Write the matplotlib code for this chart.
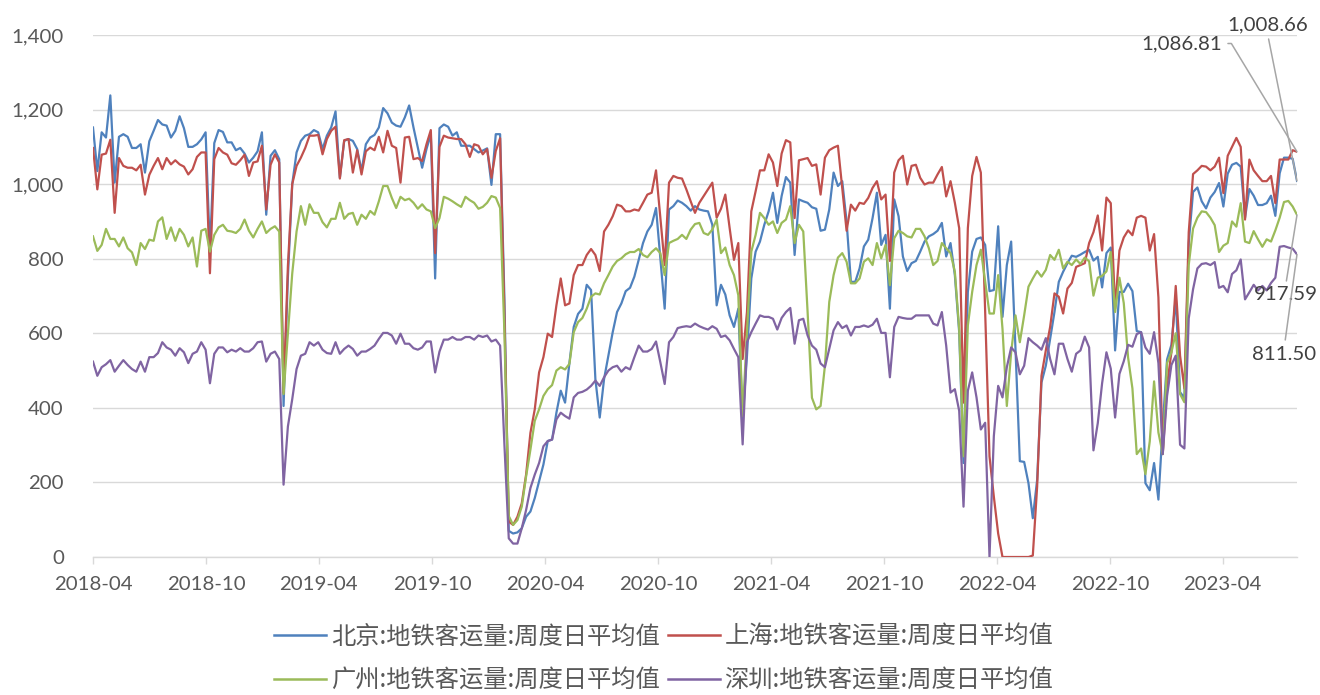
import matplotlib
matplotlib.use("Agg")
import matplotlib.pyplot as plt
from matplotlib.font_manager import FontProperties
from matplotlib.ticker import FuncFormatter
import pandas as pd

# ---------------- data ----------------
start_date = "2018-04-01"
n_weeks = 279

beijing = [
    1152, 1035, 1139, 1125, 1238, 1004, 1127, 1134, 1127, 1097,
    1097, 1107, 1031, 1115, 1143, 1172, 1160, 1157, 1125, 1143,
    1182, 1150, 1100, 1100, 1107, 1120, 1139, 820, 1110, 1145,
    1140, 1112, 1112, 1091, 1097, 1082, 1058, 1071, 1088, 1139,
    918, 1076, 1091, 1067, 405, 750, 1000, 1085, 1116, 1130,
    1134, 1145, 1139, 1094, 1130, 1152, 1195, 1017, 1116, 1121,
    1116, 1094, 1035, 1107, 1125, 1132, 1152, 1204, 1190, 1165,
    1157, 1154, 1179, 1211, 1152, 1098, 1044, 1094, 1134, 747,
    1150, 1160, 1154, 1130, 1139, 1103, 1103, 1103, 1094, 1085,
    1090, 1096, 998, 1134, 1134, 690, 70, 63, 66, 77,
    108, 122, 158, 203, 248, 311, 315, 387, 446, 414,
    520, 617, 652, 666, 730, 716, 477, 374, 477, 540,
    603, 657, 680, 713, 722, 752, 797, 842, 873, 891,
    936, 801, 666, 932, 941, 956, 950, 941, 929, 941,
    932, 929, 927, 891, 675, 730, 704, 648, 617, 666,
    369, 540, 747, 819, 846, 891, 927, 977, 896, 968,
    1019, 1004, 810, 959, 954, 950, 938, 934, 875, 878,
    932, 1031, 995, 1008, 900, 738, 738, 774, 833, 851,
    909, 977, 837, 864, 666, 959, 914, 806, 767, 788,
    794, 819, 846, 860, 866, 875, 896, 806, 842, 756,
    603, 252, 711, 819, 853, 857, 837, 713, 716, 887,
    644, 783, 846, 558, 257, 255, 198, 104, 207, 468,
    513, 585, 657, 738, 765, 788, 808, 805, 811, 818,
    824, 795, 805, 723, 815, 830, 554, 711, 711, 733,
    713, 606, 603, 198, 179, 252, 154, 350, 530, 569,
    696, 442, 427, 842, 979, 991, 954, 935, 964, 979,
    1003, 940, 1028, 1052, 1057, 1047, 910, 987, 969, 944,
    944, 949, 969, 915, 1029, 1071, 1071, 1068, 1008.66,
]

shanghai = [
    1097, 986, 1079, 1082, 1119, 923, 1070, 1049, 1044, 1044,
    1037, 1052, 972, 1025, 1049, 1070, 1040, 1070, 1053, 1064,
    1053, 1047, 1026, 1040, 1073, 1085, 1085, 761, 1067, 1097,
    1085, 1079, 1056, 1052, 1064, 1079, 1022, 1058, 1061, 1103,
    932, 1052, 1080, 1058, 440, 780, 1000, 1049, 1071, 1097,
    1130, 1130, 1132, 1080, 1121, 1143, 1154, 1015, 1118, 1121,
    1031, 1091, 1026, 1088, 1098, 1091, 1127, 1085, 1143, 1103,
    1097, 1004, 1125, 1127, 1067, 1070, 1062, 1107, 1145, 815,
    1100, 1130, 1125, 1123, 1121, 1121, 1107, 1073, 1107, 1103,
    1080, 1094, 1017, 1089, 1123, 650, 95, 86, 108, 144,
    221, 333, 396, 495, 536, 599, 590, 675, 747, 675,
    680, 756, 783, 783, 810, 826, 810, 767, 873, 891,
    914, 945, 941, 927, 927, 932, 929, 950, 972, 977,
    1037, 909, 783, 1004, 1022, 1017, 1015, 986, 954, 923,
    950, 968, 986, 1004, 910, 934, 972, 882, 797, 842,
    531, 657, 927, 981, 1037, 1037, 1080, 1058, 995, 1082,
    1118, 1112, 909, 1064, 1067, 1070, 1049, 1053, 972, 1071,
    1091, 1098, 1103, 990, 875, 945, 929, 950, 947, 963,
    990, 1008, 959, 972, 794, 1031, 1064, 1076, 999, 1049,
    1052, 1017, 999, 1004, 1004, 1026, 1046, 967, 1008, 950,
    882, 414, 882, 1022, 1073, 1031, 657, 270, 162, 63,
    0, 0, 0, 0, 0, 0, 0, 4, 189, 486,
    554, 617, 707, 698, 653, 720, 735, 778, 783, 788,
    842, 871, 916, 822, 964, 949, 666, 822, 857, 876,
    863, 910, 915, 910, 822, 866, 696, 276, 461, 549,
    727, 540, 452, 871, 1027, 1037, 1049, 1047, 1037, 1047,
    1071, 976, 1076, 1100, 1124, 1100, 905, 1066, 1037, 1022,
    1008, 1008, 1022, 949, 1066, 1066, 1066, 1091, 1086.81,
]

guangzhou = [
    860, 821, 837, 880, 853, 853, 833, 857, 828, 817,
    783, 842, 826, 851, 848, 900, 911, 853, 884, 848,
    880, 864, 833, 857, 779, 875, 880, 819, 864, 884,
    891, 875, 873, 869, 880, 905, 875, 857, 880, 900,
    869, 880, 887, 873, 437, 600, 760, 873, 941, 891,
    946, 923, 923, 898, 884, 907, 907, 950, 907, 920,
    923, 891, 918, 907, 928, 918, 954, 995, 995, 963,
    936, 966, 957, 961, 950, 934, 946, 932, 927, 882,
    909, 966, 961, 954, 946, 939, 966, 957, 950, 934,
    939, 950, 968, 964, 936, 600, 110, 86, 99, 135,
    216, 288, 365, 396, 432, 450, 461, 500, 509, 503,
    518, 603, 630, 641, 666, 698, 707, 704, 734, 756,
    779, 794, 801, 812, 818, 818, 826, 810, 804, 818,
    828, 815, 756, 842, 848, 853, 864, 853, 878, 893,
    896, 869, 864, 878, 905, 815, 830, 783, 756, 702,
    378, 603, 819, 864, 923, 909, 891, 900, 869, 896,
    905, 941, 842, 891, 873, 657, 427, 396, 405, 513,
    684, 756, 803, 815, 792, 734, 734, 747, 792, 801,
    783, 842, 801, 837, 729, 855, 875, 869, 860, 857,
    880, 880, 860, 828, 783, 794, 842, 828, 815, 765,
    612, 270, 621, 711, 783, 824, 738, 653, 653, 756,
    612, 405, 549, 648, 576, 648, 725, 747, 767, 752,
    770, 810, 797, 824, 774, 792, 783, 798, 786, 803,
    793, 701, 749, 754, 766, 818, 657, 749, 681, 535,
    452, 276, 291, 222, 310, 471, 334, 276, 520, 549,
    600, 437, 415, 783, 881, 910, 927, 925, 910, 890,
    818, 835, 842, 900, 886, 949, 846, 842, 874, 852,
    832, 852, 846, 876, 910, 952, 955, 940, 917.59,
]

shenzhen = [
    524, 486, 509, 517, 528, 497, 513, 528, 515, 504,
    497, 524, 497, 536, 536, 547, 576, 562, 556, 540,
    560, 549, 520, 545, 551, 576, 556, 466, 545, 562,
    562, 549, 556, 551, 560, 551, 551, 560, 576, 578,
    524, 545, 551, 531, 194, 350, 423, 504, 540, 545,
    576, 567, 576, 556, 547, 545, 576, 545, 558, 567,
    558, 540, 551, 551, 558, 567, 585, 601, 601, 594,
    572, 599, 572, 572, 560, 556, 562, 578, 578, 495,
    551, 583, 583, 590, 583, 583, 590, 590, 583, 594,
    590, 594, 578, 583, 567, 300, 50, 36, 36, 77,
    126, 185, 221, 252, 297, 311, 315, 369, 387, 378,
    371, 428, 440, 443, 449, 459, 473, 459, 482, 500,
    509, 513, 497, 509, 503, 536, 567, 551, 551, 558,
    578, 522, 464, 576, 590, 614, 617, 619, 617, 626,
    619, 614, 610, 619, 612, 590, 594, 581, 558, 536,
    302, 576, 603, 626, 648, 644, 644, 639, 610, 641,
    657, 668, 572, 635, 639, 594, 567, 556, 519, 509,
    558, 608, 630, 614, 621, 594, 617, 617, 621, 617,
    623, 639, 601, 601, 482, 617, 644, 641, 639, 639,
    648, 648, 648, 648, 626, 621, 657, 567, 441, 450,
    392, 135, 446, 495, 428, 342, 360, 0, 324, 459,
    428, 509, 562, 549, 490, 513, 587, 576, 567, 556,
    587, 531, 490, 572, 572, 531, 497, 545, 554, 591,
    562, 286, 359, 466, 549, 505, 374, 491, 525, 569,
    564, 598, 603, 562, 545, 603, 520, 276, 432, 515,
    540, 301, 291, 640, 718, 774, 786, 788, 783, 791,
    722, 727, 710, 759, 769, 798, 691, 710, 730, 715,
    727, 715, 735, 749, 832, 834, 830, 827, 811.50,
]

series_names = [
    "北京:地铁客运量:周度日平均值",
    "上海:地铁客运量:周度日平均值",
    "广州:地铁客运量:周度日平均值",
    "深圳:地铁客运量:周度日平均值",
]
series_colors = ["#4F81BD", "#C0504D", "#9BBB59", "#8064A2"]
y_ticks = [0, 200, 400, 600, 800, 1000, 1200, 1400]
x_tick_labels = ["2018-04", "2018-10", "2019-04", "2019-10", "2020-04", "2020-10",
                 "2021-04", "2021-10", "2022-04", "2022-10", "2023-04"]

# ---------------- figure ----------------
W, H = 1320, 695
fig = plt.figure(figsize=(W / 100, H / 100), dpi=100)
ax = fig.add_axes([93 / W, 1 - 557 / H, (1297 - 93) / W, (557 - 35) / H])

dates = pd.date_range(start_date, periods=n_weeks, freq="7D")
all_series = [beijing, shanghai, guangzhou, shenzhen]
lines = []
for vals, name, col in zip(all_series, series_names, series_colors):
    ln, = ax.plot(dates, vals, color=col, linewidth=1.6, label=name,
                  solid_joinstyle="round", zorder=3)
    lines.append(ln)

num_font = "Lato"
tick_color = "#595959"
grid_color = "#D9D9D9"

ax.set_ylim(0, 1400)
ax.set_yticks(y_ticks)
ax.yaxis.set_major_formatter(FuncFormatter(lambda v, p: f"{int(v):,}"))
ax.set_xlim(dates[0], dates[-1])
ax.set_xticks([pd.Timestamp(t + "-01") for t in x_tick_labels])
ax.set_xticklabels(x_tick_labels)

ax.set_axisbelow(True)
ax.yaxis.grid(True, color=grid_color, linewidth=1.0)
for s in ["top", "right", "left"]:
    ax.spines[s].set_visible(False)
ax.spines["bottom"].set_color(grid_color)
ax.spines["bottom"].set_linewidth(1.0)

ax.tick_params(axis="y", length=0, pad=21, labelcolor=tick_color, labelsize=14.7)
ax.tick_params(axis="x", length=5, width=1.0, color=grid_color, pad=8.5,
               labelcolor=tick_color, labelsize=14.7)
for lab in ax.get_xticklabels() + ax.get_yticklabels():
    lab.set_fontfamily(num_font)

# ---------------- end-value labels ----------------
last = dates[-1]
ann_specs = [
    (shanghai[-1], (1182, H - 43.5), (1.0, 0.5), "arc,angleA=0,armA=9,angleB=0,armB=0,rad=0"),
    (beijing[-1], (1267.5, H - 25), (0.5, 0.0), "arc3,rad=0"),
    (guangzhou[-1], (1285.5, H - 295), (0.5, 1.0), "arc3,rad=0"),
    (shenzhen[-1], (1284.5, H - 354), (0.5, 1.0), "arc3,rad=0"),
]
for val, pos, rel, cs in ann_specs:
    ax.annotate(f"{val:,.2f}", xy=(last, val), xytext=pos, textcoords="figure pixels",
                ha="center", va="center", fontsize=14.7, family=num_font, color="#404040",
                annotation_clip=False,
                arrowprops=dict(arrowstyle="-", color="#A6A6A6", linewidth=1.1,
                                shrinkA=2, shrinkB=0, relpos=rel, connectionstyle=cs))

# ---------------- legend ----------------
cjk = FontProperties(family=["Noto Sans CJK SC", "DejaVu Sans"], size=17.5)
leg_kw = dict(ncol=2, loc="center", frameon=False, prop=cjk, handlelength=2.14,
              handletextpad=0.2, columnspacing=0.33, borderpad=0, labelcolor="#595959")
leg1 = fig.legend(handles=lines[:2], bbox_to_anchor=(663.5 / W, 1 - 637 / H), **leg_kw)
leg2 = fig.legend(handles=lines[2:], bbox_to_anchor=(663.5 / W, 1 - 681 / H), **leg_kw)
for lg in (leg1, leg2):
    for h in lg.legend_handles:
        h.set_linewidth(1.8)

fig.savefig("out.png", dpi=100)
